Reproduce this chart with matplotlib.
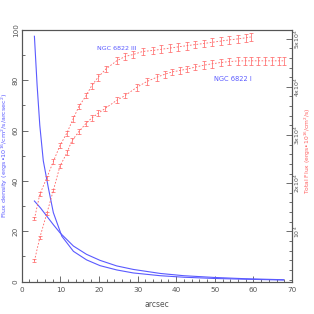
import matplotlib
matplotlib.use("Agg")
import matplotlib.pyplot as plt
from matplotlib.ticker import MultipleLocator, FixedLocator, FixedFormatter

# Blue surface-brightness profiles (left axis)
blue_a_x = [3.3, 4.0, 4.7, 5.6, 6.9, 8.2, 10.4, 13.4, 16.8, 20.3, 24.6, 28.9, 35.9, 42.0, 50.0, 58.0, 67.8]
blue_a_y = [97.5, 78.0, 62.0, 48.0, 37.3, 27.4, 18.0, 12.0, 8.6, 6.3, 4.6, 3.4, 2.3, 1.7, 1.2, 0.9, 0.6]
blue_b_x = [3.3, 4.9, 6.5, 8.2, 9.9, 13.4, 16.8, 20.3, 24.6, 28.9, 35.9, 42.0, 50.0, 58.0, 67.8]
blue_b_y = [32.0, 29.2, 26.0, 22.6, 19.4, 14.1, 10.8, 8.4, 6.2, 4.8, 3.2, 2.3, 1.6, 1.1, 0.7]

# Red cumulative flux (right axis)
red3_x = [3.3, 4.7, 6.5, 8.2, 9.9, 11.7, 13.3, 14.8, 16.7, 18.1, 19.8, 21.8, 24.6, 26.8, 28.8,
          31.4, 34.0, 36.2, 38.4, 40.6, 42.8, 45.0, 47.2, 49.4, 51.6, 53.8, 56.0, 58.2, 59.3]
red3_y = [12600, 17700, 21100, 24500, 27800, 30400, 33300, 35900, 38200, 40200, 42000, 43700, 45400,
          46300, 46700, 47350, 47550, 47800, 48050, 48300, 48550, 48780, 49000, 49250, 49500, 49750,
          49950, 50200, 50350]
red3_e = [300, 400, 400, 500, 500, 500, 600, 600, 600, 600, 700, 700, 700, 700, 700,
          700, 700, 800, 800, 800, 800, 800, 800, 800, 800, 800, 800, 800, 800]

red1_x = [3.3, 4.7, 6.5, 8.2, 9.9, 11.7, 13.0, 14.9, 16.7, 18.1, 19.8, 21.6, 24.6, 26.8, 29.8,
          32.4, 35.0, 37.0, 39.0, 41.0, 42.9, 45.0, 47.2, 49.4, 51.6, 53.8, 55.9, 57.7, 59.5,
          61.3, 63.1, 64.9, 66.5, 67.8]
red1_y = [3900, 8700, 13700, 18500, 23500, 26300, 28800, 30800, 32450, 33500, 34500, 35500, 37200,
          38200, 39900, 41100, 42000, 42600, 43100, 43400, 43700, 44100, 44500, 44800, 45050, 45250,
          45370, 45400, 45400, 45400, 45400, 45400, 45400, 45400]
red1_e = [300, 300, 400, 400, 400, 500, 500, 500, 500, 600, 600, 600, 600, 600, 700,
          700, 700, 700, 700, 700, 700, 700, 800, 800, 800, 800, 800, 800, 800,
          800, 800, 800, 800, 800]

x_ticks = [0, 10, 20, 30, 40, 50, 60, 70]
left_ticks = [0, 20, 40, 60, 80, 100]
right_ticks = [10000, 20000, 30000, 40000, 50000]
right_labels = ["10$^4$", "2x10$^4$", "3x10$^4$", "4x10$^4$", "5x10$^4$"]

blue = "#5a5aff"
red = "#ff6060"
axc = "#555555"

fig = plt.figure(figsize=(3.14, 3.14), dpi=100)
ax = fig.add_axes([0.069, 0.1035, 0.861, 0.801])
ax2 = ax.twinx()

ax.plot(blue_a_x, blue_a_y, color=blue, lw=0.8)
ax.plot(blue_b_x, blue_b_y, color=blue, lw=0.8)

for xs, ys, es in [(red3_x, red3_y, red3_e), (red1_x, red1_y, red1_e)]:
    ax2.errorbar(xs, ys, yerr=es, color=red, lw=0.6, ls=(0, (2, 2)), elinewidth=0.5,
                 capsize=1.3, capthick=0.5)

ax.set_xlim(0, 70)
ax.set_ylim(0, 100)
ax2.set_ylim(-400, 51800)

ax.xaxis.set_major_locator(FixedLocator(x_ticks))
ax.xaxis.set_minor_locator(MultipleLocator(2))
ax.yaxis.set_major_locator(FixedLocator(left_ticks))
ax.yaxis.set_minor_locator(MultipleLocator(10))
ax2.yaxis.set_major_locator(FixedLocator(right_ticks))
ax2.yaxis.set_major_formatter(FixedFormatter(right_labels))
ax2.yaxis.set_minor_locator(MultipleLocator(2000))

for a in (ax, ax2):
    for s in a.spines.values():
        s.set_color(axc)
        s.set_linewidth(0.8)
    a.tick_params(which='both', direction='in', colors=axc, labelsize=5.2, width=0.6)
    a.tick_params(which='major', length=4)
    a.tick_params(which='minor', length=2)
ax.tick_params(top=False, which='both')
ax.tick_params(axis='x', pad=4)
ax.tick_params(axis='y', labelrotation=90, pad=2)
ax2.tick_params(axis='y', labelrotation=90, pad=0.8, labelsize=4.5)
for lab in ax.get_yticklabels():
    lab.set_va('center')
for lab in ax2.get_yticklabels():
    lab.set_va('center')

ax.set_xlabel("arcsec", fontsize=5.5, color=axc)
ax.xaxis.set_label_coords(0.5, -0.074)
ax.set_ylabel("Flux density (ergs\u202210$^{16}$/cm$^2$/s/arcsec$^2$)", fontsize=4.6, color=blue)
ax.yaxis.set_label_coords(-0.042, 0.5)
ax2.set_ylabel("Total Flux (ergs\u202210$^{16}$/cm$^2$/s)", fontsize=4.3, color=red, rotation=90)
ax2.yaxis.set_label_coords(1.041, 0.52)

ax.text(19.5, 92.8, "NGC 6822 III", fontsize=4.6, color=blue, ha='left', va='center')
ax.text(49.8, 80.5, "NGC 6822 I", fontsize=4.8, color=blue, ha='left', va='center')

fig.savefig("out.png", dpi=100)
